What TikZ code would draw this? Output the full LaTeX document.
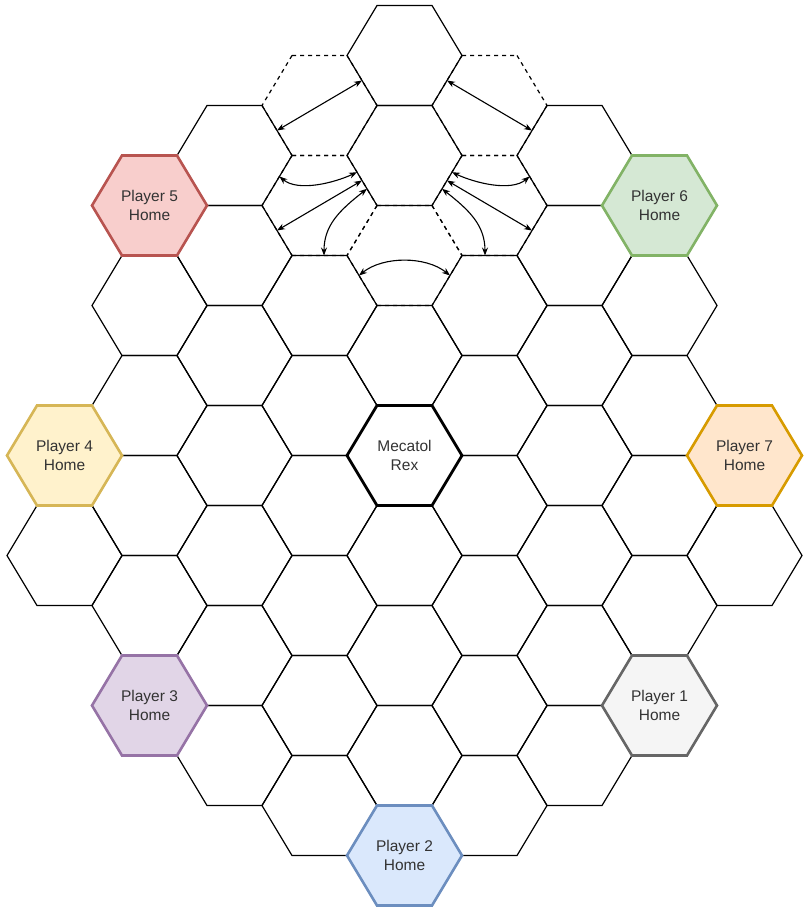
\documentclass[tikz,border=0pt]{standalone}
\usepackage{fontspec}
\setmainfont{Liberation Sans}
\usetikzlibrary{calc,arrows.meta}
\definecolor{redfill}{HTML}{F8CECC}
\definecolor{redline}{HTML}{B85450}
\definecolor{greenfill}{HTML}{D5E8D4}
\definecolor{greenline}{HTML}{82B366}
\definecolor{yellowfill}{HTML}{FFF2CC}
\definecolor{yellowline}{HTML}{D6B656}
\definecolor{orangefill}{HTML}{FFE6CC}
\definecolor{orangeline}{HTML}{D79B00}
\definecolor{purplefill}{HTML}{E1D5E7}
\definecolor{purpleline}{HTML}{9673A6}
\definecolor{greyfill}{HTML}{F5F5F5}
\definecolor{greyline}{HTML}{666666}
\definecolor{bluefill}{HTML}{DAE8FC}
\definecolor{blueline}{HTML}{6C8EBF}
\definecolor{labeltext}{HTML}{333333}
\tikzset{
  plain/.style={draw=black, line width=1.2pt},
  gone/.style={draw=black, line width=1.2pt, dash pattern=on 4pt off 4pt},
  home/.style 2 args={fill=#1, draw=#2, line width=2.6pt},
  rex/.style={draw=black, line width=2.8pt},
  hexlabel/.style={align=center, text=labeltext, font=\fontsize{15.5}{18.6}\selectfont},
  link/.style={<->, >={Stealth[length=8pt,width=6pt]}, line width=1.1pt}
}
\newcommand{\hexcell}[4]{%
  \draw[#1] (#3) +(-57.5,0) -- +(-27.5,-50) -- +(27.5,-50) -- +(57.5,0) -- +(27.5,50) -- +(-27.5,50) -- cycle;
  \node[hexlabel] (#2) at (#3) {#4};}
% removed tile: every side drawn top/left end first, so shared dashes line up
\newcommand{\gonecell}[2]{%
  \draw[gone] (#2) +(-27.5,-50) -- +(27.5,-50) +(-27.5,50) -- +(27.5,50)
    +(-27.5,-50) -- +(-57.5,0) +(-57.5,0) -- +(-27.5,50)
    +(27.5,-50) -- +(57.5,0) +(57.5,0) -- +(27.5,50);
  \node (#1) at (#2) {};}

\begin{document}
\begin{tikzpicture}[x=1pt, y=-1pt]
\useasboundingbox (0,0) rectangle (808,913);
% removed tiles
\foreach \k/\r in {-1/1, 1/1, -1/3, 1/3, 0/4}
  \gonecell{h\k-\r}{{404.5+85*\k},{55.5+50*\r}};
% board
\foreach \k/\rows in {0/{0,2,6,10,12,14}, -1/{5,7,9,11,13,15}, 1/{5,7,9,11,13,15},
    -2/{2,4,6,8,10,12,14}, 2/{2,4,6,8,10,12,14}, -3/{5,7,9,11}, 3/{5,7,9,11}, -4/{10}, 4/{10}}
  \foreach \r in \rows
    \hexcell{plain}{h\k-\r}{{404.5+85*\k},{55.5+50*\r}}{};
% home systems
\hexcell{home={redfill}{redline}}{p5}{149.5,205.5}{Player 5\\Home}
\hexcell{home={greenfill}{greenline}}{p6}{659.5,205.5}{Player 6\\Home}
\hexcell{home={yellowfill}{yellowline}}{p4}{64.5,455.5}{Player 4\\Home}
\hexcell{home={orangefill}{orangeline}}{p7}{744.5,455.5}{Player 7\\Home}
\hexcell{home={purplefill}{purpleline}}{p3}{149.5,705.5}{Player 3\\Home}
\hexcell{home={greyfill}{greyline}}{p1}{659.5,705.5}{Player 1\\Home}
\hexcell{home={bluefill}{blueline}}{p2}{404.5,855.5}{Player 2\\Home}
\hexcell{rex}{rex}{404.5,455.5}{Mecatol\\Rex}
% hyperlane ends
\coordinate (a1) at ($(h0-0)+(-42.5,25)$);
\coordinate (b1) at ($(h-2-2)+(42.5,-25)$);
\coordinate (a2) at ($(h-2-2)+(44.9,21)$);
\coordinate (b2) at ($(h0-2)+(-47.5,16.7)$);
\coordinate (a3) at ($(h0-2)+(-42.5,25)$);
\coordinate (b3) at ($(h-2-4)+(42.5,-25)$);
\coordinate (a4) at ($(h0-2)+(-37.5,33.3)$);
\coordinate (b4) at ($(h-1-5)+(4.5,-50)$);
\coordinate (a5) at ($(h0-4)+(-45.5,20)$);
\coordinate (b5) at ($(h0-4)+(45.5,20)$);
\coordinate (c1) at ($(h0-0)+(42.5,25)$);
\coordinate (d1) at ($(h2-2)+(-42.5,-25)$);
\coordinate (c2) at ($(h2-2)+(-44.9,21)$);
\coordinate (d2) at ($(h0-2)+(47.5,16.7)$);
\coordinate (c3) at ($(h0-2)+(42.5,25)$);
\coordinate (d3) at ($(h2-4)+(-42.5,-25)$);
\coordinate (c4) at ($(h0-2)+(37.5,33.3)$);
\coordinate (d4) at ($(h1-5)+(-4.5,-50)$);
\draw[link] (a1) -- (b1);
\draw[link] (a2) .. controls +(18.6,15.5) and +(-23,10.8) .. (b2);
\draw[link] (a3) -- (b3);
\draw[link] (a4) .. controls +(-27,21.2) and +(0,-30.5) .. (b4);
\draw[link] (a5) .. controls +(24,-19.5) and +(-24,-19.5) .. (b5);
\draw[link] (c1) -- (d1);
\draw[link] (c2) .. controls +(-18.6,15.5) and +(23,10.8) .. (d2);
\draw[link] (c3) -- (d3);
\draw[link] (c4) .. controls +(27,21.2) and +(0,-30.5) .. (d4);
\end{tikzpicture}
\end{document}
